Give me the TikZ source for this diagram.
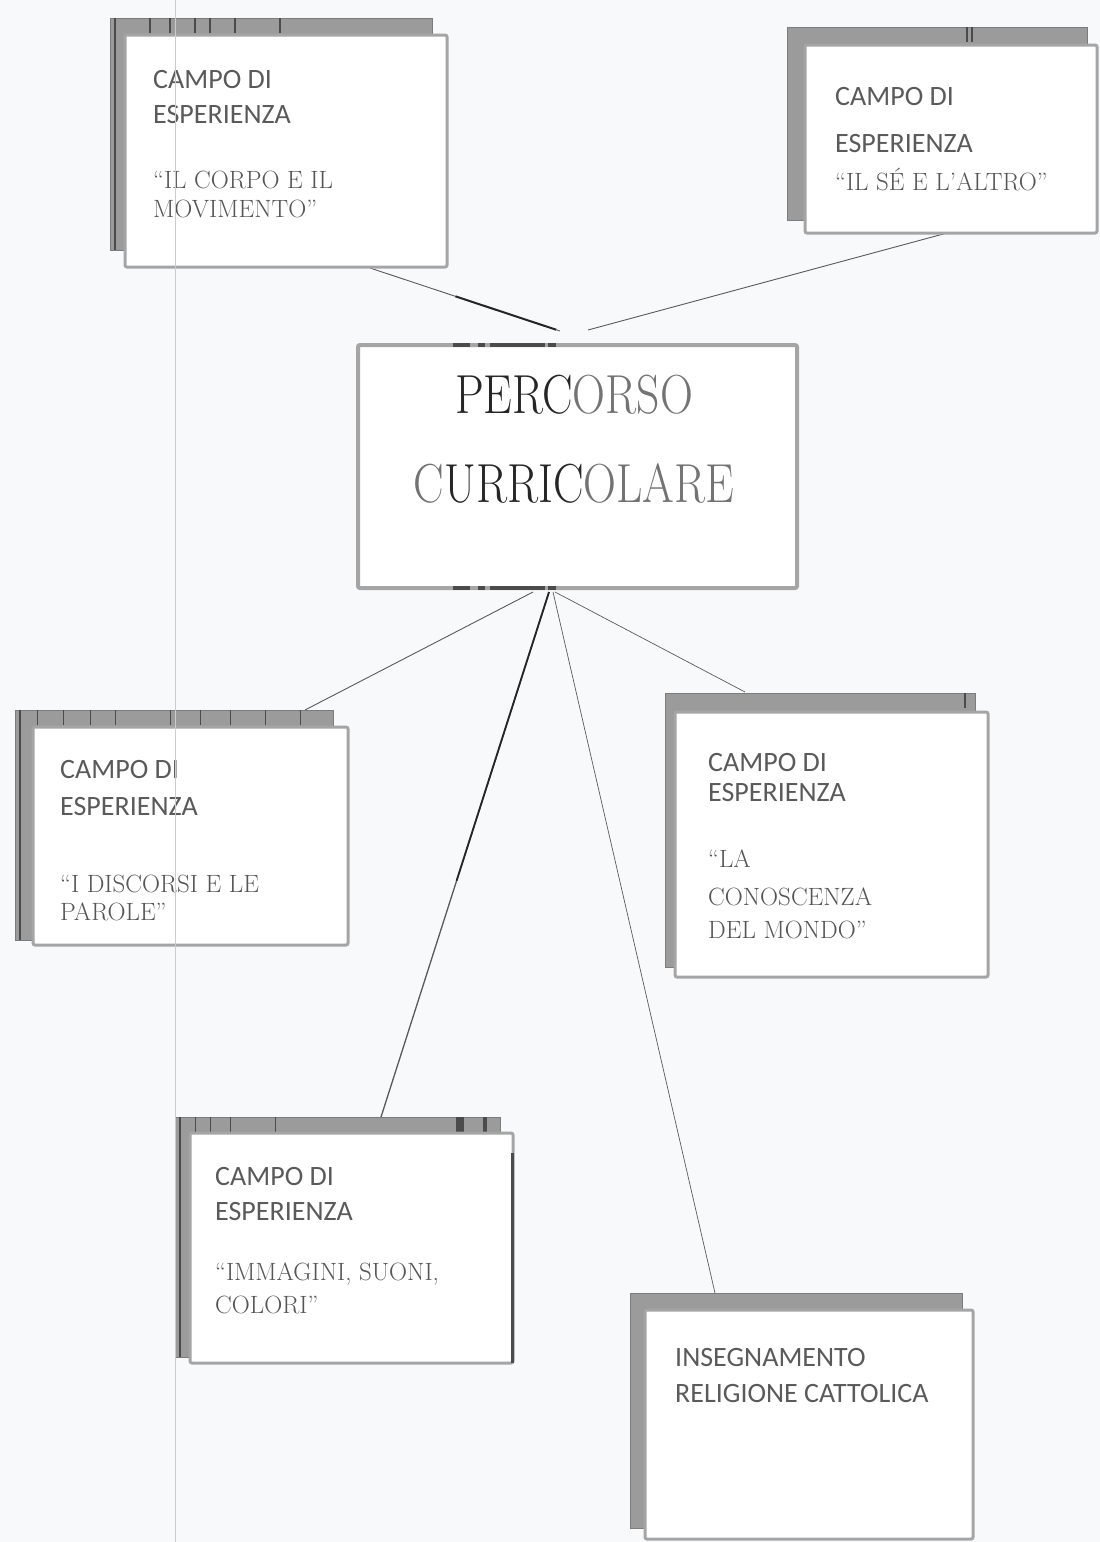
\documentclass[tikz,border=0pt]{standalone}
\usepackage{fontspec}
\usepackage{graphicx}
\usetikzlibrary{calc}
\newfontfamily\campofont{Carlito}
\definecolor{bg}{RGB}{248,249,251}
\definecolor{shadowgray}{RGB}{155,155,155}
\definecolor{stripedark}{RGB}{75,75,75}
\definecolor{bordergray}{RGB}{165,165,165}
\definecolor{textgray}{RGB}{90,90,90}
\definecolor{quotegray}{RGB}{85,85,85}
\definecolor{titlegray}{RGB}{115,115,115}
\definecolor{linegray}{RGB}{90,90,90}
\begin{document}
\begin{tikzpicture}[x=1pt,y=-1pt,
  backbox/.style={fill=shadowgray, draw=shadowgray!80!black, line width=1pt, anchor=north west, inner sep=0, outer sep=0},
  frontbox/.style={fill=white, draw=bordergray, line width=3pt, rounded corners=2pt, anchor=north west, inner sep=0, outer sep=0},
  centrebox/.style={fill=white, draw=bordergray, line width=4pt, rounded corners=2pt, anchor=north west, inner sep=0, outer sep=0},
  campo/.style={anchor=base west, text=textgray, font=\campofont\fontsize{28}{30}\selectfont, inner sep=0},
  quot/.style={anchor=base west, text=quotegray, font=\fontsize{25}{28}\selectfont, inner sep=0},
  titletext/.style={anchor=base, text=titlegray, font=\fontsize{55}{60}\selectfont, inner sep=0},
  link/.style={draw=linegray, line width=0.9pt},
  darklink/.style={draw=black!85, line width=2pt},
  stripe/.style={draw=stripedark, line width=2pt}]
\useasboundingbox (0,0) rectangle (1100,1542);
\fill[bg] (0,0) rectangle (1100,1542);

% ---------- connectors ----------
\coordinate (a1) at (370,268);  \coordinate (a2) at (560,331);
\coordinate (b1) at (947,233);  \coordinate (b2) at (588,330);
\coordinate (o1) at (533,592);  \coordinate (d1) at (305,710);
\coordinate (o2) at (549,592);  \coordinate (e1) at (381,1117);
\coordinate (o3) at (553,592);  \coordinate (g1) at (715,1293);
\coordinate (o4) at (555,592);  \coordinate (h1) at (745,692);
\draw[link] (a1) -- (a2);
\draw[darklink] ($(a1)!0.45!(a2)$) -- ($(a1)!0.98!(a2)$);
\draw[link] (b2) -- (b1);
\draw[link] (o1) -- (d1);
\draw[link, line width=1.3pt] (o2) -- (e1);
\draw[darklink, line width=1.8pt] (o2) -- ($(o2)!0.55!(e1)$);
\draw[link, line width=0.7pt] (o3) -- (g1);
\draw[link, line width=0.7pt] (o4) -- (h1);

% ---------- box 1 ----------
\node[backbox, minimum width=322, minimum height=232] (k1) at (110,18) {};
\draw[stripe] ([xshift=5pt]k1.north west) -- ([xshift=5pt]k1.south west);
\foreach \xx in {40,60,85,100,125,170} \draw[stripe, line width=1.2pt] ([xshift=\xx pt]k1.north west) -- ++(0,15);
\node[frontbox, minimum width=322, minimum height=232] (f1) at (125,35) {};
\node[campo] (t1a) at (153,88) {CAMPO DI};
\node[campo] (t1b) at (153,123) {ESPERIENZA};
\node[quot] (t1c) at (153,188) {“IL CORPO E IL};
\node[quot] (t1d) at (153,217) {MOVIMENTO”};

% ---------- box 2 ----------
\node[backbox, minimum width=300, minimum height=193] (k2) at (787,27) {};
\draw[stripe, line width=1.5pt] ([xshift=180pt]k2.north west) -- ++(0,15);
\draw[stripe, line width=1.5pt] ([xshift=185pt]k2.north west) -- ++(0,15);
\node[frontbox, minimum width=292, minimum height=188] (f2) at (805,45) {};
\node[campo] (t2a) at (835,105) {CAMPO DI};
\node[campo] (t2b) at (835,152) {ESPERIENZA};
\node[quot] (t2c) at (835,190) {“IL SÉ E L’ALTRO”};

% ---------- centre ----------
\node[centrebox, minimum width=439, minimum height=243] (c) at (358,345) {};
\foreach \xa/\xb in {453/470,478/485,490/545,548/556}{
  \draw[stripe, line width=4pt] (\xa,345) -- (\xb,345);
  \draw[stripe, line width=4pt] (\xa,588) -- (\xb,588);}
\node[titletext] (p1) at (574,413) {\scalebox{0.83}[1]{\textcolor{black!85}{PERC}ORSO}};
\node[titletext] (p2) at (574,502) {\scalebox{0.83}[1]{C\textcolor{black!85}{URRIC}OLARE}};

% ---------- box 3 ----------
\node[backbox, minimum width=318, minimum height=230] (k3) at (15,710) {};
\draw[stripe] ([xshift=5pt]k3.north west) -- ([xshift=5pt]k3.south west);
\foreach \xx in {22,48,75,100,155,185,215,250,285} \draw[stripe, line width=1pt] ([xshift=\xx pt]k3.north west) -- ++(0,15);
\node[frontbox, minimum width=315, minimum height=218] (f3) at (33,727) {};
\node[campo] (t3a) at (60,778) {CAMPO DI};
\node[campo] (t3b) at (60,815) {ESPERIENZA};
\node[quot] (t3c) at (60,892) {“I DISCORSI E LE};
\node[quot] (t3d) at (60,920) {PAROLE”};

% ---------- box 4 ----------
\node[backbox, minimum width=310, minimum height=274] (k4) at (665,693) {};
\draw[stripe, line width=1.5pt] ([xshift=300pt]k4.north west) -- ++(0,15);
\node[frontbox, minimum width=313, minimum height=265] (f4) at (675,712) {};
\node[campo] (t4a) at (708,771) {CAMPO DI};
\node[campo] (t4b) at (708,801) {ESPERIENZA};
\node[quot] (t4c) at (708,867) {“LA};
\node[quot] (t4d) at (708,905) {CONOSCENZA};
\node[quot] (t4e) at (708,938) {DEL MONDO”};

% ---------- box 5 ----------
\node[backbox, minimum width=325, minimum height=240] (k5) at (175,1117) {};
\draw[stripe] ([xshift=5pt]k5.north west) -- ([xshift=5pt]k5.south west);
\foreach \xx in {20,35,55,100} \draw[stripe, line width=1pt] ([xshift=\xx pt]k5.north west) -- ++(0,15);
\draw[stripe, line width=8pt] ([xshift=285pt]k5.north west) -- ++(0,15);
\draw[stripe, line width=4pt] ([xshift=310pt]k5.north west) -- ++(0,15);
\node[frontbox, minimum width=323, minimum height=230] (f5) at (190,1133) {};
\draw[stripe, line width=3pt] ([xshift=-1pt,yshift=-20pt]f5.north east) -- ([xshift=-1pt]f5.south east);
\node[campo] (t5a) at (215,1185) {CAMPO DI};
\node[campo] (t5b) at (215,1220) {ESPERIENZA};
\node[quot] (t5c) at (215,1280) {“IMMAGINI, SUONI,};
\node[quot] (t5d) at (215,1313) {COLORI”};

% ---------- box 6 ----------
\node[backbox, minimum width=332, minimum height=235] (k6) at (630,1293) {};
\node[frontbox, minimum width=328, minimum height=229] (f6) at (645,1310) {};
\node[campo] (t6a) at (675,1366) {INSEGNAMENTO};
\node[campo] (t6b) at (675,1402) {RELIGIONE CATTOLICA};

% ---------- scan margin line ----------
\draw[gray!40, line width=0.7pt] (175,0) -- (175,1542);
\end{tikzpicture}
\end{document}
